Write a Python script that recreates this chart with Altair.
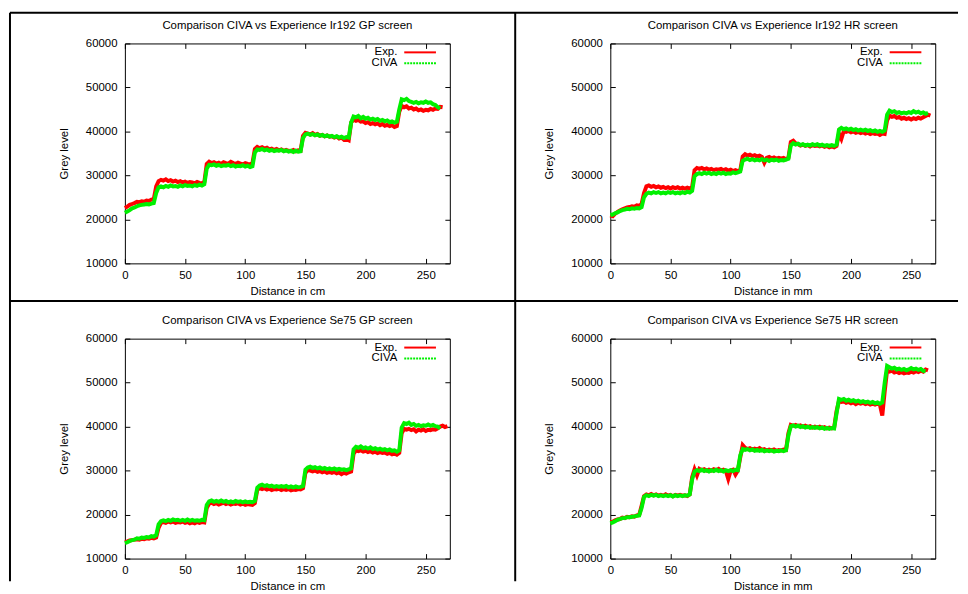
import altair as alt
import pandas as pd

# ---------------- data ----------------
DIST = [0, 2, 4, 6, 8, 10, 12, 14, 16, 18, 20, 22, 24, 26, 28, 30, 32, 34, 36, 38,
        40, 42, 44, 46, 48, 50, 52, 54, 56, 58, 60, 62, 64, 66, 68, 70, 72, 74, 76, 78,
        80, 82, 84, 86, 88, 90, 92, 94, 96, 98, 100, 102, 104, 106, 108, 110, 112, 114,
        116, 118, 120, 122, 124, 126, 128, 130, 132, 134, 136, 138, 140, 142, 144, 146,
        148, 150, 152, 154, 156, 158, 160, 162, 164, 166, 168, 170, 172, 174, 176, 178,
        180, 182, 184, 186, 188, 190, 192, 194, 196, 198, 200, 202, 204, 206, 208, 210,
        212, 214, 216, 218, 220, 222, 224, 226, 228, 230, 232, 234, 236, 238, 240, 242,
        244, 246, 248, 250, 252, 254, 256, 258, 260, 262, 264, 266, 268]

TITLES = ["Comparison CIVA vs Experience Ir192 GP screen",
          "Comparison CIVA vs Experience Ir192 HR screen",
          "Comparison CIVA vs Experience Se75 GP screen",
          "Comparison CIVA vs Experience Se75 HR screen"]
X_TITLES = ["Distance in cm", "Distance in mm", "Distance in cm", "Distance in mm"]
Y_TITLE = "Grey level"
X_TICKS = [0, 50, 100, 150, 200, 250]
Y_TICKS = [10000, 20000, 30000, 40000, 50000, 60000]
LEGEND = ["Exp.", "CIVA"]

IR192_GP_EXP = [
    22600, 22900, 23300, 23500, 23700, 24000, 23900, 24100, 24000, 24300, 24200, 24500, 24600,
    27500, 28700, 29000, 28800, 29100, 28700, 28900, 28600, 28800, 28500, 28700, 28400, 28600, 28300, 28500, 28400, 28200, 28500, 28300, 28200, 28500,
    32600, 33100, 32800, 33000, 32700, 32900, 32600, 33000, 32800, 32700, 33100, 32800, 32600, 32900, 32700, 32500, 32800, 32600, 32500, 32800,
    36000, 36500, 36200, 36400, 36100, 36300, 35900, 36100, 35800, 36000, 35700, 35900, 35600, 35800, 35600, 35500, 35800, 35500, 35700, 35600,
    39000, 39700, 39500, 39300, 39600, 39200, 39400, 39000, 39200, 38900, 39100, 38800, 38900, 38600, 38800, 38400, 38600, 38100, 38300, 38000,
    42000, 42700, 42400, 42600, 42200, 42300, 41900, 42100, 41700, 41900, 41600, 41800, 41400, 41700, 41300, 41500, 41200, 41400, 41000, 41200,
    44500, 45800, 45500, 45700, 45200, 45400, 45000, 45200, 44800, 45000, 44700, 44900, 44800, 45100, 44900, 45200, 45100, 45600, 45500]
IR192_GP_CIVA = [
    21500, 21800, 22100, 22500, 22700, 23000, 23200, 23300, 23400, 23500, 23400, 23600, 23700,
    26000, 27300, 27500, 27300, 27600, 27400, 27700, 27500, 27600, 27400, 27700, 27500, 27800, 27600, 27700, 27500, 27800, 27600, 27900, 27700, 28000,
    31500, 32400, 32300, 32500, 32200, 32400, 32100, 32300, 32200, 32400, 32100, 32300, 32000, 32200, 32100, 32300, 32000, 32200, 31900, 32100,
    35200, 35900, 35800, 36000, 35700, 35900, 35600, 35800, 35500, 35700, 35600, 35800, 35500, 35700, 35400, 35600, 35300, 35600, 35400, 35500,
    38500, 39300, 39500, 39200, 39400, 39100, 39300, 39000, 39200, 38900, 39100, 38800, 39000, 38700, 38900, 38600, 38800, 38500, 38700, 38600,
    42000, 43400, 43200, 43500, 43000, 43300, 42900, 43100, 42700, 42900, 42600, 42800, 42400, 42600, 42300, 42500, 42100, 42300, 42000, 42200,
    45000, 47300, 47100, 47400, 46900, 46700, 46500, 46700, 46400, 46600, 46500, 46800, 46500, 46600, 46200, 46000, 45500, 45200]

IR192_HR_EXP = [
    20900, 20700, 21300, 21700, 22000, 22300, 22500, 22700, 22800, 23000, 22900, 23200, 23100, 23500,
    26000, 27500, 27700, 27400, 27600, 27300, 27500, 27200, 27400, 27100, 27300, 27000, 27300, 27100, 27300, 27000, 27200, 27000, 27200, 27000, 27400,
    31200, 31700, 31500, 31700, 31400, 31600, 31300, 31500, 31200, 31400, 31300, 31500, 31200, 31400, 31100, 31300, 31000, 31200, 31000, 31200,
    34300, 34800, 34500, 34700, 34400, 34600, 34300, 34500, 34200, 32900, 34000, 34200, 33900, 34100, 33800, 34000, 33800, 34000, 33700, 34000,
    37600, 37900, 37300, 37100, 36800, 37000, 36700, 36900, 36600, 36900, 36700, 36800, 36600, 36800, 36500, 36700, 36400, 36600, 36400, 36700,
    39500, 38300, 40100, 39900, 40100, 39800, 40000, 39700, 39900, 39600, 39800, 39500, 39700, 39400, 39600, 39400, 39500, 39200, 39500, 39400,
    42500, 43600, 43300, 43500, 43100, 43300, 42900, 43100, 42800, 43000, 42700, 43000, 42800, 43100, 42900, 43200, 43500, 43800, 43600]
IR192_HR_CIVA = [
    21000, 21100, 21400, 21600, 21900, 22100, 22200, 22400, 22300, 22500, 22400, 22600, 22500, 22800,
    25000, 25800, 26100, 25900, 26200, 26000, 26200, 25900, 26100, 25900, 26200, 26000, 26200, 25900, 26100, 25900, 26200, 26000, 26300, 26100, 26500,
    29800, 30300, 30500, 30300, 30600, 30400, 30600, 30300, 30500, 30300, 30600, 30400, 30600, 30300, 30500, 30400, 30700, 30500, 30700, 30900,
    33300, 33600, 33800, 33500, 33700, 33400, 33600, 33400, 33700, 33400, 33600, 33300, 33600, 33400, 33600, 33300, 33500, 33400, 33600, 33800,
    36800, 37300, 37000, 37200, 36900, 37100, 36800, 37000, 36800, 37100, 36900, 37100, 36800, 37000, 36700, 36900, 36700, 36900, 36700, 37000,
    40400, 40800, 40500, 40700, 40400, 40600, 40300, 40500, 40200, 40400, 40200, 40400, 40100, 40300, 40000, 40200, 39900, 40100, 39900, 40200,
    43800, 44700, 44400, 44600, 44200, 44400, 44100, 44300, 44100, 44400, 44200, 44600, 44300, 44500, 44100, 44300, 44000, 44200]

SE75_GP_EXP = [
    13800, 13900, 14100, 14200, 14300, 14400, 14300, 14500, 14400, 14600, 14500, 14700, 14600, 14800,
    17000, 18100, 18300, 18100, 18400, 18200, 18400, 18100, 18300, 18200, 18400, 18100, 18300, 18000, 18200, 18000, 18300, 18100, 18300, 18200,
    21500, 22500, 22700, 22400, 22600, 22300, 22500, 22700, 22400, 22600, 22300, 22500, 22400, 22600, 22300, 22500, 22200, 22400, 22300, 22200, 22600,
    25600, 26000, 25800, 26000, 25700, 25900, 25600, 25800, 25700, 25900, 25600, 25800, 25600, 25800, 25500, 25700, 25600, 25800, 25700, 26000,
    29500, 30100, 30000, 29800, 30000, 29700, 29900, 29600, 29800, 29500, 29700, 29500, 29700, 29400, 29600, 29200, 29500, 29300, 29600, 29800,
    33800, 34600, 34400, 34600, 34300, 34500, 34200, 34400, 34100, 34300, 34000, 34200, 34000, 34100, 33800, 34000, 33700, 33900, 33600, 34000,
    38500, 39500, 39300, 39500, 39200, 39400, 38900, 39300, 39100, 39400, 39000, 39300, 39200, 39400, 39300, 39600, 40000, 40200, 39900, 40100]
SE75_GP_CIVA = [
    13500, 13700, 14000, 14200, 14300, 14600, 14500, 14800, 14700, 14900, 14800, 15100, 15000, 15300,
    17800, 18500, 18700, 18500, 18800, 18600, 18900, 18700, 18800, 18600, 18800, 18600, 18900, 18600, 18800, 18600, 18700, 18600, 18800, 18700,
    22200, 23000, 23200, 22900, 23100, 22900, 23200, 22900, 23100, 22800, 23000, 22800, 23100, 22900, 23000, 22800, 23000, 22800, 22900, 22800, 23100,
    26100, 26600, 26800, 26500, 26700, 26400, 26600, 26300, 26500, 26300, 26500, 26300, 26500, 26200, 26400, 26200, 26400, 26200, 26300, 26500,
    30200, 30700, 30900, 30600, 30800, 30500, 30700, 30400, 30600, 30300, 30500, 30300, 30500, 30200, 30400, 30200, 30300, 30100, 30300, 30500,
    34800, 35400, 35200, 35500, 35100, 35300, 35000, 35300, 34900, 35100, 34800, 35000, 34700, 34900, 34600, 34800, 34500, 34600, 34300, 34600,
    39800, 40800, 40600, 40900, 40400, 40600, 40200, 40400, 40100, 40300, 40200, 40500, 40200, 40400, 40100, 40000, 39600]

SE75_HR_EXP = [
    18300, 18400, 18700, 18900, 19000, 19300, 19200, 19500, 19400, 19600, 19500, 19800, 19900,
    22000, 24200, 24600, 24400, 24700, 24400, 24600, 24300, 24500, 24300, 24600, 24300, 24500, 24200, 24500, 24300, 24500, 24300, 24400, 24200, 24600,
    28500, 30300, 28900, 30400, 30100, 30300, 30000, 30200, 30000, 30300, 30100, 30400, 30000, 30200, 29900, 28100, 30000, 30200, 29100, 30000,
    33000, 35800, 35200, 34900, 35100, 34800, 35000, 34800, 35100, 34700, 34900, 34600, 34800, 34600, 34800, 34500, 34700, 34600, 34800, 34700,
    38500, 40400, 40200, 40400, 40100, 40300, 40000, 40200, 39900, 40100, 39800, 40000, 39800, 40000, 39700, 39900, 39600, 39800, 39600, 39800,
    43500, 45800, 45600, 45800, 45400, 45600, 45300, 45500, 45100, 45400, 45200, 45400, 45100, 45300, 45000, 45200, 45000, 45200, 45000, 42500,
    48000, 52800, 52500, 52700, 52300, 52500, 52200, 52400, 52100, 52300, 52200, 52500, 52300, 52600, 52400, 52700, 52500, 53000, 52800]
SE75_HR_CIVA = [
    18000, 18200, 18500, 18800, 19000, 19200, 19200, 19400, 19400, 19500, 19600, 19700, 19800,
    21500, 24000, 24400, 24200, 24500, 24300, 24500, 24200, 24400, 24200, 24400, 24200, 24400, 24100, 24400, 24200, 24400, 24200, 24400, 24300, 24600,
    28000, 29800, 30100, 29900, 30200, 29900, 30100, 29800, 30100, 29900, 30200, 29900, 30100, 29800, 30100, 29900, 30100, 29900, 30200, 30100,
    33500, 34900, 34700, 34900, 34600, 34800, 34500, 34700, 34500, 34700, 34400, 34600, 34400, 34600, 34300, 34500, 34400, 34600, 34400, 34600,
    38000, 40100, 40300, 40000, 40200, 39900, 40100, 39800, 40000, 39700, 39900, 39700, 39900, 39600, 39800, 39500, 39700, 39500, 39700, 39600,
    43000, 46300, 46100, 46300, 45900, 46100, 45800, 46000, 45700, 45900, 45600, 45800, 45500, 45700, 45400, 45600, 45300, 45500, 45200, 45500,
    50000, 53800, 53500, 53200, 53400, 53000, 53200, 52900, 53100, 52800, 53000, 53300, 53000, 53200, 52900, 53100, 52700, 52600]

# ---------------- styling ----------------
RED = "#ff0000"
GREEN = "#00f000"
FONT = "Liberation Sans"
FS = 11.5
W, H = 328, 222


def series_frame(values, name):
    return pd.DataFrame({"dist": DIST[:len(values)], "grey": values, "series": name})


def panel(title, xtitle, exp, civa, with_frame=False):
    xs = alt.Scale(domain=[0, 270], nice=False, zero=False)
    ys = alt.Scale(domain=[10000, 60000], nice=False, zero=False)
    bottom = alt.Axis(orient="bottom", values=X_TICKS, offset=-5, tickSize=5, domain=False,
                      grid=False, labelPadding=6, labelFlush=False, title=xtitle, titlePadding=5)
    left = alt.Axis(orient="left", values=Y_TICKS, format="d", offset=-5, tickSize=5,
                    domain=False, grid=False, labelPadding=8, labelFlush=False,
                    title=Y_TITLE, titlePadding=16)
    top = alt.Axis(orient="top", values=X_TICKS, offset=-5, tickSize=5, domain=False,
                   grid=False, labels=False, title=None)
    right = alt.Axis(orient="right", values=Y_TICKS, offset=-5, tickSize=5, domain=False,
                     grid=False, labels=False, title=None)

    exp_line = alt.Chart(series_frame(exp, LEGEND[0])).mark_line(
        color=RED, strokeWidth=4).encode(
        x=alt.X("dist:Q", scale=xs, axis=bottom),
        y=alt.Y("grey:Q", scale=ys, axis=left))
    civa_line = alt.Chart(series_frame(civa, LEGEND[1])).mark_line(
        color=GREEN, strokeWidth=4).encode(
        x=alt.X("dist:Q", scale=xs, axis=top),
        y=alt.Y("grey:Q", scale=ys, axis=right))

    title_mark = alt.Chart(pd.DataFrame({"title": [title]})).mark_text(
        align="center", baseline="middle", font=FONT, fontSize=FS, color="black").encode(
        text="title:N", x=alt.value(W / 2), y=alt.value(-18))

    layers = [exp_line, civa_line, title_mark]
    for i, (lab, col) in enumerate(zip(LEGEND, [RED, GREEN])):
        ldf = pd.DataFrame({"label": [lab]})
        ypos = 9 + 11 * i
        layers.append(alt.Chart(ldf).mark_text(
            align="right", baseline="middle", font=FONT, fontSize=FS, color="black").encode(
            text="label:N", x=alt.value(275), y=alt.value(ypos)))
        rule_kw = dict(color=col, strokeWidth=2)
        if i == 1:
            rule_kw["strokeDash"] = [2, 1]
        layers.append(alt.Chart(ldf).mark_rule(**rule_kw).encode(
            x=alt.value(282), x2=alt.value(314), y=alt.value(ypos)))

    if with_frame:
        fdf = pd.DataFrame({"k": [0]})
        frame = [
            dict(x=alt.value(-116), x2=alt.value(841), y=alt.value(-31)),
            dict(x=alt.value(-116), y=alt.value(-31), y2=alt.value(543)),
            dict(x=alt.value(-116), x2=alt.value(841), y=alt.value(260)),
            dict(x=alt.value(394), y=alt.value(-31), y2=alt.value(543)),
        ]
        for enc in frame:
            layers.append(alt.Chart(fdf).mark_rule(color="black", strokeWidth=2).encode(**enc))

    return alt.layer(*layers).properties(width=W, height=H)


p1 = panel(TITLES[0], X_TITLES[0], IR192_GP_EXP, IR192_GP_CIVA, with_frame=True)
p2 = panel(TITLES[1], X_TITLES[1], IR192_HR_EXP, IR192_HR_CIVA)
p3 = panel(TITLES[2], X_TITLES[2], SE75_GP_EXP, SE75_GP_CIVA)
p4 = panel(TITLES[3], X_TITLES[3], SE75_HR_EXP, SE75_HR_CIVA)

chart = alt.concat(p1, p2, p3, p4, columns=2, spacing={"row": 76, "column": 162},
                   bounds="flush").properties(padding=0).configure_view(
    stroke="black", strokeWidth=1).configure_axis(
    labelFont=FONT, titleFont=FONT, labelFontSize=FS, titleFontSize=FS,
    titleFontWeight="normal", labelColor="black", titleColor="black",
    tickColor="black", tickWidth=1)

chart.save("out.html", embed_options={"renderer": "svg", "actions": False})
